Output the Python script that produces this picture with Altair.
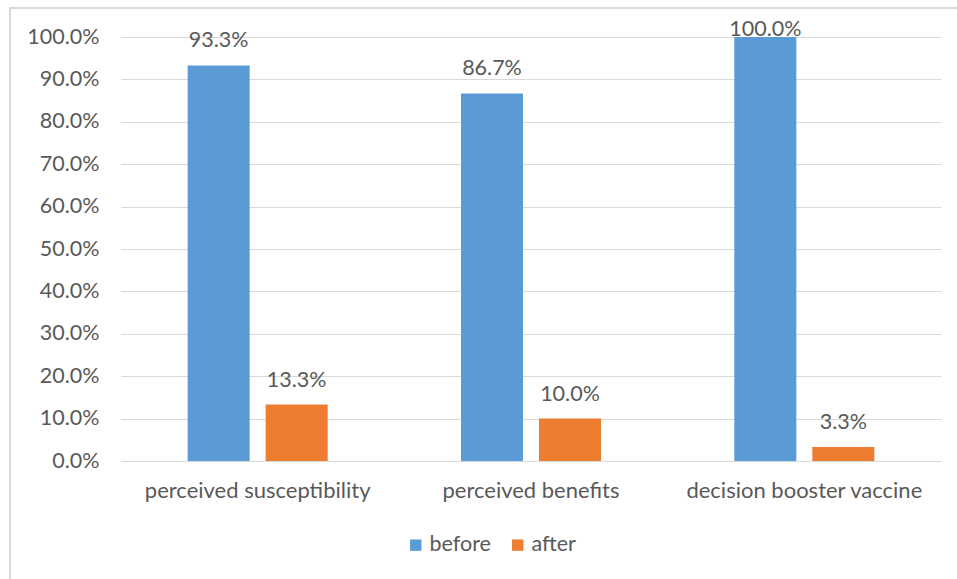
import altair as alt
import pandas as pd

categories = ["perceived susceptibility", "perceived benefits", "decision booster vaccine"]
series = ["before", "after"]
before_vals = [0.933, 0.867, 1.0]
after_vals = [0.133, 0.10, 0.033]

rows = []
for c, b, a in zip(categories, before_vals, after_vals):
    rows.append({"category": c, "series": "before", "value": b})
    rows.append({"category": c, "series": "after", "value": a})
df = pd.DataFrame(rows)

FONT = "Lato"
FS = 21.5
TXT = "#595959"
GRID = "#D9D9D9"

x = alt.X("category:N", sort=categories, title=None,
          scale=alt.Scale(paddingInner=0, paddingOuter=0),
          axis=alt.Axis(labelAngle=0, ticks=False, grid=False, domain=True, domainColor=GRID,
                        labelLimit=0, labelPadding=19, labelFontSize=22, labelColor=TXT,
                        labelFont=FONT))
xo = alt.XOffset("series:N", sort=series, scale=alt.Scale(paddingInner=0.205, paddingOuter=0.854))

bars = alt.Chart(df).mark_bar().encode(
    x=x,
    xOffset=xo,
    y=alt.Y("value:Q", title=None,
            scale=alt.Scale(domain=[0, 1], nice=False),
            axis=alt.Axis(format=".1%", values=[i / 10 for i in range(11)], ticks=False, domain=False,
                          gridColor=GRID, labelPadding=22, labelFontSize=FS, labelColor=TXT,
                          labelFont=FONT)),
    color=alt.Color("series:N", sort=series,
                    scale=alt.Scale(domain=series, range=["#5B9BD5", "#ED7D31"]),
                    legend=alt.Legend(title=None, orient="none", direction="horizontal",
                                      legendX=284, legendY=497, symbolType="square",
                                      symbolSize=130, symbolStrokeWidth=0, labelFontSize=FS,
                                      labelColor=TXT, labelFont=FONT, columnPadding=16,
                                      labelOffset=3)),
)

labels = alt.Chart(df).transform_calculate(
    ly="min(datum.value, 0.96)"
).mark_text(baseline="middle", dy=-24, fontSize=FS, color=TXT, font=FONT).encode(
    x=alt.X("category:N", sort=categories),
    xOffset=xo,
    y=alt.Y("ly:Q"),
    text=alt.Text("value:Q", format=".1%"),
)

frame = alt.Chart(df).mark_rect(fill=None, stroke=GRID, strokeWidth=1.5, clip=False).encode(
    x=alt.value(-111), x2=alt.value(900), y=alt.value(-29), y2=alt.value(700)
)

chart = alt.layer(frame, bars, labels).properties(
    width=820, height=424,
    background="white",
    autosize=alt.AutoSizeParams(type="none"),
    padding={"left": 121, "top": 37, "right": 16, "bottom": 118},
).configure_view(stroke="transparent", strokeWidth=0)

chart.save("out.html", embed_options={"renderer": "svg", "actions": False})
